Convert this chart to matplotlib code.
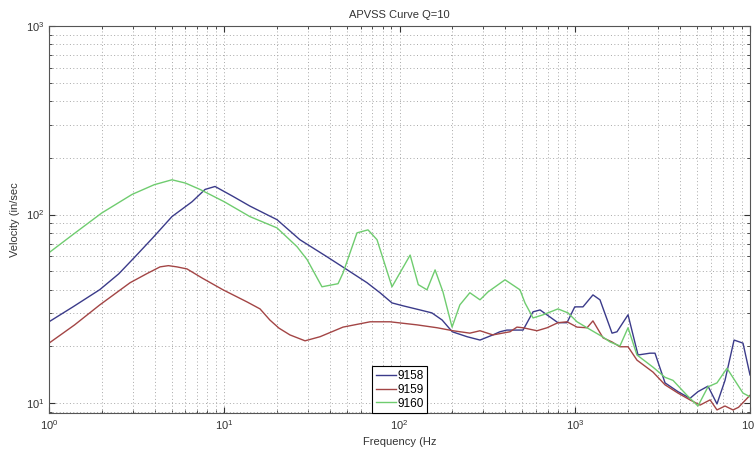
import matplotlib
matplotlib.use("Agg")
import matplotlib.pyplot as plt
from matplotlib.ticker import LogLocator

# 9158 (blue)
f_9158 = [1, 1.37, 1.95, 2.5, 3.1, 3.92, 5.03, 6.55, 7.77, 8.86, 11.2, 14, 17.5, 20, 27,
          38.5, 50.2, 65.3, 77.4, 90.6, 105, 131, 153, 175, 200, 243, 288, 341, 374, 410,
          507, 578, 634, 723, 802, 903, 1000, 1114, 1270, 1393, 1632, 1742, 2014, 2296,
          2688, 2870, 3275, 3882, 4545, 5047, 5757, 6480, 7200, 8110, 9120, 10000]
v_9158 = [27, 32.4, 40, 48.5, 59.8, 75.5, 97.6, 117, 136, 141, 125, 111, 100, 94, 73.6,
          59.8, 51, 43.5, 38.5, 34, 32.8, 31.2, 30.1, 27.6, 23.9, 22.5, 21.6, 23, 23.9, 24.4,
          24.4, 30.5, 31.2, 28.6, 26.7, 26.7, 32.4, 32.4, 37.5, 35.3, 23.5, 23.9, 29.4, 18,
          18.4, 18.4, 12.8, 11.5, 10.6, 11.5, 12.3, 9.9, 13.2, 21.6, 20.8, 14.1]

# 9159 (red)
f_9159 = [1, 1.4, 1.95, 2.9, 3.6, 4.3, 4.8, 5.37, 6.13, 7.5, 9.84, 13.5, 16, 18.2, 20.5,
          23.7, 28.9, 35.2, 47.6, 68, 88.2, 126, 164, 202, 252, 288, 341, 427, 468, 507,
          609, 695, 802, 903, 1030, 1175, 1270, 1450, 1632, 1811, 2014, 2265, 2797, 3275,
          3882, 4545, 5188, 5920, 6480, 7200, 8000, 8600, 10000]
v_9159 = [20.8, 26, 33.2, 43.5, 48.5, 52.8, 53.6, 52.8, 51.5, 46, 39.9, 34.4, 31.6, 27.6,
          25, 23, 21.4, 22.5, 25.3, 27, 27, 26, 25.1, 24.2, 23.5, 24.2, 23, 23.9, 25.3, 25.1,
          24.2, 25.1, 26.7, 27, 25.3, 25.1, 27.3, 22.2, 21.1, 19.9, 19.9, 16.9, 14.6, 12.5,
          11.3, 10.4, 9.76, 10.4, 9.2, 9.65, 9.2, 9.5, 11]

# 9160 (green)
f_9160 = [1, 1.41, 2, 2.98, 3.98, 5.03, 6, 7.27, 10, 14, 20, 26, 29.7, 36.1, 44.6, 47.6,
          57.2, 66.1, 74.4, 90.6, 115, 128, 143.5, 159.6, 177, 199.5, 221, 252, 288, 320,
          400, 487, 520, 578, 659, 802, 915, 1030, 1175, 1450, 1590, 1811, 2014, 2265,
          2797, 3275, 3637, 4368, 5047, 5757, 6480, 7390, 9120, 10000]
v_9160 = [62.8, 80, 102, 128, 144, 153, 147, 136, 117, 97.6, 85, 67.6, 57.7, 41.4, 43,
          49, 80, 83, 73.6, 41.4, 61, 42.5, 39.9, 50.9, 38.9, 25.3, 33.2, 38.5, 35.3, 38.9,
          45.1, 39.9, 34, 28.3, 29.4, 31.6, 30.1, 27, 25.1, 22.4, 21.1, 20.1, 25.1, 18,
          15.5, 13.7, 13.2, 11, 9.65, 12.2, 12.8, 15.3, 11.3, 10.8]

plt.rcParams['font.family'] = ['Liberation Sans', 'DejaVu Sans']
plt.rcParams['font.size'] = 8

fig = plt.figure(figsize=(7.54, 4.5), dpi=100)
ax = fig.add_axes([0.065, 0.082, 0.9297, 0.86])

ax.loglog(f_9158, v_9158, color='#3b3b8a', lw=1.0, label='9158')
ax.loglog(f_9159, v_9159, color='#a34545', lw=1.0, label='9159')
ax.loglog(f_9160, v_9160, color='#6fcc6f', lw=1.0, label='9160')

ax.set_xlim(1, 1e4)
ax.set_ylim(8.85, 1000)
ax.xaxis.set_minor_locator(LogLocator(base=10, subs=range(2, 10), numticks=20))
ax.yaxis.set_minor_locator(LogLocator(base=10, subs=range(2, 10), numticks=20))

# matlab style dotted grid
ax.grid(True, which='both', linestyle=(0, (1, 2.5)), color='#a8a8a8', lw=0.7)
ax.tick_params(which='both', direction='in', top=True, right=True, colors='#333333')
ax.tick_params(which='major', length=4)
ax.tick_params(which='minor', length=2)
for s in ax.spines.values():
    s.set_color('#555555')

ax.set_title('APVSS Curve Q=10', fontsize=8, color='#333333')
ax.set_xlabel('Frequency (Hz', color='#333333')
ax.set_ylabel('Velocity (in/sec', color='#333333')

leg = ax.legend(loc='lower left', bbox_to_anchor=(0.461, 0.0), fancybox=False,
                edgecolor='black', framealpha=1, handlelength=1.7, borderaxespad=0,
                labelspacing=0.15, borderpad=0.3, handletextpad=0.15, fontsize=8.5)
leg.get_frame().set_linewidth(0.8)

fig.savefig('out.png', dpi=100)
